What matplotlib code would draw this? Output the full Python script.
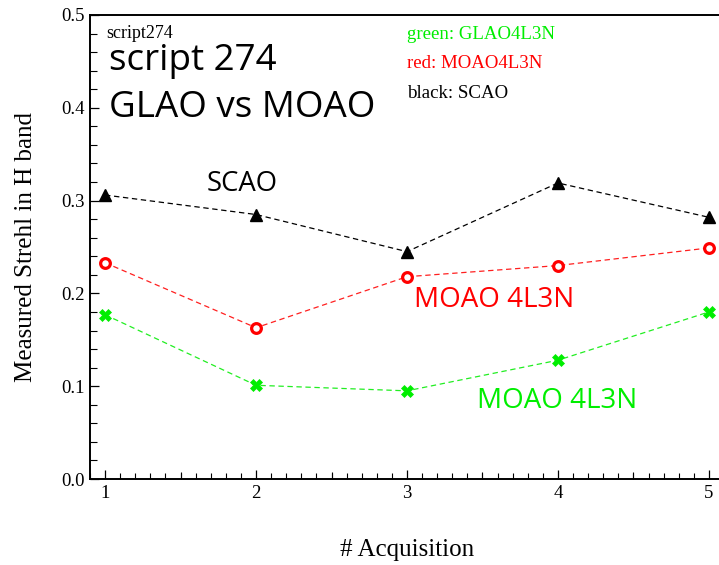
import matplotlib
matplotlib.use("Agg")
import matplotlib.pyplot as plt
from matplotlib.ticker import MultipleLocator, FormatStrFormatter

# Strehl ratios per acquisition
acquisition = [1, 2, 3, 4, 5]
scao = [0.306, 0.285, 0.245, 0.319, 0.282]
moao = [0.233, 0.163, 0.218, 0.230, 0.249]
glao = [0.177, 0.101, 0.095, 0.128, 0.180]

W, H = 719, 565
fig = plt.figure(figsize=(W / 100, H / 100), dpi=100)

# axes box in pixels: left, bottom spine, right, top spine
x0, y_bot, x1, y_top = 90, 479, 724, 15
ax = fig.add_axes([x0 / W, 1 - y_bot / H, (x1 - x0) / W, (y_bot - y_top) / H])

serif = "Liberation Serif"
sans = "Open Sans"

dash = (0, (4.3, 2.9))
ax.plot(acquisition, scao, color="black", lw=0.9, ls=dash,
        marker="^", ms=8.5, mfc="black", mec="black", zorder=3)
ax.plot(acquisition, moao, color="#ff2020", lw=0.9, ls=dash,
        marker="o", ms=7, mfc="white", mec="red", mew=2.3, zorder=3)
ax.plot(acquisition, glao, color="#22ee22", lw=0.9, ls=dash,
        marker="X", ms=8.5, mfc="#00ee00", mec="#00ee00", mew=0.5, zorder=3)

ax.set_xlim(0.9, 5.1)
ax.set_ylim(0.0, 0.5)

ax.xaxis.set_major_locator(MultipleLocator(1))
ax.xaxis.set_minor_locator(MultipleLocator(0.1))
ax.yaxis.set_major_locator(MultipleLocator(0.1))
ax.yaxis.set_minor_locator(MultipleLocator(0.02))
ax.yaxis.set_major_formatter(FormatStrFormatter("%.1f"))

for side in ("left", "bottom", "top", "right"):
    ax.spines[side].set_linewidth(1.4)

ax.tick_params(which="major", direction="in", length=6.5, width=0.9,
               labelsize=13.5, pad=4, top=False, right=False)
ax.tick_params(which="minor", direction="in", length=4, width=0.8,
               top=False, right=False)
ax.tick_params(axis="y", which="minor", length=5)
for lab in ax.get_xticklabels() + ax.get_yticklabels():
    lab.set_fontfamily(serif)

# half-unit ticks on the x axis are a little longer
half = ax.secondary_xaxis("bottom")
half.set_xticks([1.5, 2.5, 3.5, 4.5])
half.tick_params(direction="in", length=5.2, width=0.8, labelbottom=False)
half.spines["bottom"].set_visible(False)

ax.set_xlabel("# Acquisition", fontfamily=serif, fontsize=18, labelpad=27)
ax.set_ylabel("Measured Strehl in H band", fontfamily=serif, fontsize=18, labelpad=17)


def px_text(x, y, s, **kw):
    fig.text(x / W, 1 - y / H, s, va="baseline", ha="left", **kw)


px_text(106, 38, "script274", fontfamily=serif, fontsize=13, color="black")
px_text(109, 70, "script 274", fontfamily=sans, fontsize=26.5, color="black")
px_text(109, 117, "GLAO vs MOAO", fontfamily=sans, fontsize=26.5, color="black")

px_text(407, 39, "green: GLAO4L3N", fontfamily=serif, fontsize=13.6, color="#00ee00")
px_text(407, 68, "red: MOAO4L3N", fontfamily=serif, fontsize=13.6, color="red")
px_text(407, 98, "black: SCAO", fontfamily=serif, fontsize=13.6, color="black")

px_text(207, 191, "SCAO", fontfamily=sans, fontsize=19.8, color="black")
px_text(414, 307, "MOAO 4L3N", fontfamily=sans, fontsize=20, color="red")
px_text(477, 408, "MOAO 4L3N", fontfamily=sans, fontsize=20, color="#00ee00")

fig.savefig("out.png", dpi=100)
